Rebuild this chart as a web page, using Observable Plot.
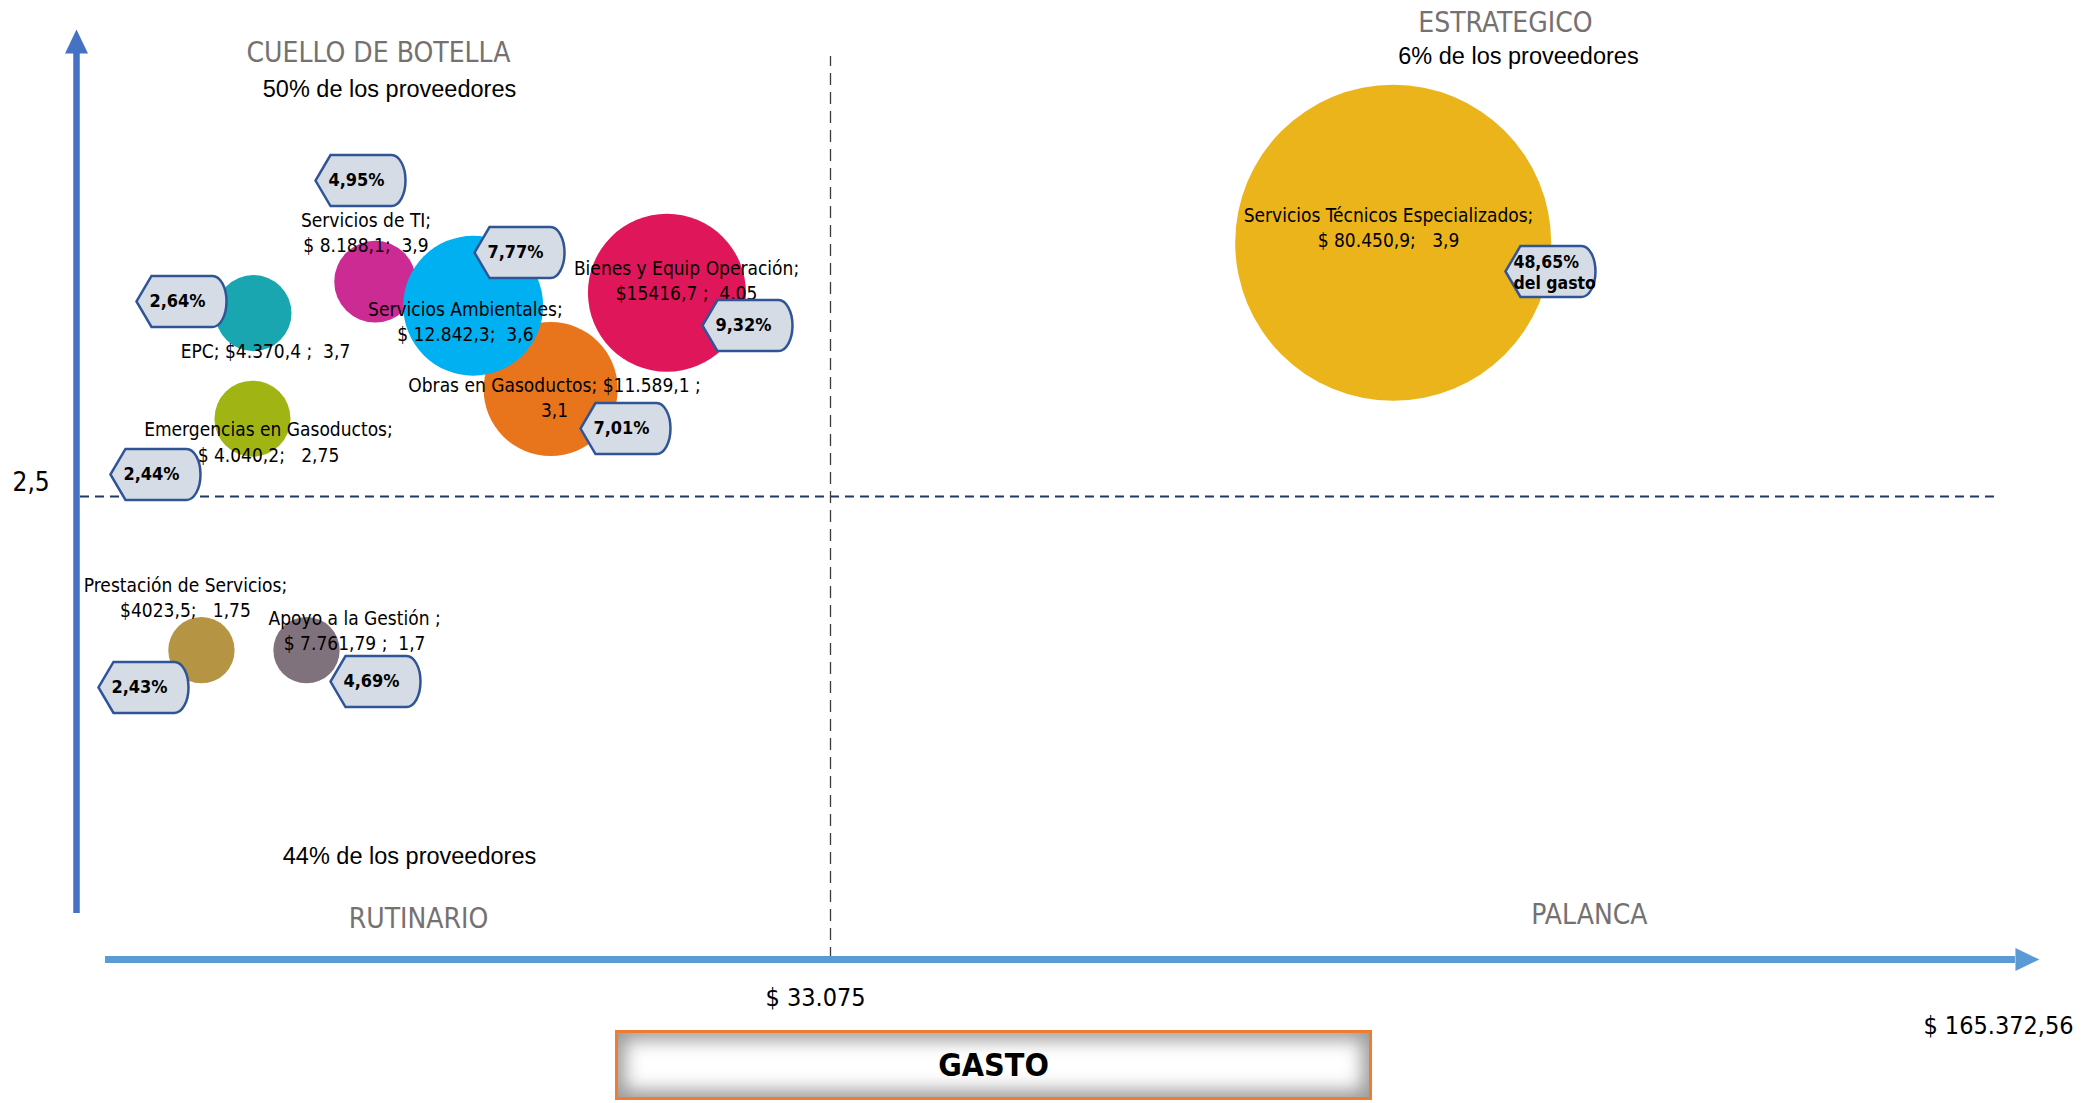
<!DOCTYPE html>
<html>
<head>
<meta charset="utf-8">
<script src="https://cdn.jsdelivr.net/npm/d3@7"></script>
<script src="https://cdn.jsdelivr.net/npm/@observablehq/plot@0.6"></script>
<style>
  body { margin: 0; background: #fff; }
  #wrap { position: relative; width: 2088px; height: 1103px; overflow: hidden; background: #fff; }
  #wrap svg text, #wrap svg tspan { white-space: pre; }
  #gasto {
    position: absolute; left: 615px; top: 1030px; width: 757px; height: 70px;
    box-sizing: border-box; border: 3px solid #ED7D31; background: #fff;
    box-shadow: inset 0 0 18px 7px rgba(100,100,100,0.65);
    display: flex; align-items: center; justify-content: center;
    font-family: 'Liberation Sans Narrow', 'DejaVu Sans Condensed', sans-serif;
    font-weight: bold; font-size: 32px; color: #000;
  }
</style>
</head>
<body>
<div id="wrap"><div id="chart"></div><div id="gasto">GASTO</div></div>
<script>
// ---------- data ----------
const categories = [
  "Servicios Técnicos Especializados", "Bienes y Equip Operación", "Obras en Gasoductos",
  "Servicios de TI", "Servicios Ambientales", "EPC", "Emergencias en Gasoductos",
  "Prestación de Servicios", "Apoyo a la Gestión"
];
const spendMCOP = [80450.9, 15416.7, 11589.1, 8188.1, 12842.3, 4370.4, 4040.2, 4023.5, 7761.79];
const score = [3.9, 4.05, 3.1, 3.9, 3.6, 3.7, 2.75, 1.75, 1.7];
const labelTexts = [
  "Servicios Técnicos Especializados;\n$ 80.450,9;   3,9",
  "Bienes y Equip Operación;\n$15416,7 ;  4,05",
  "Obras en Gasoductos; $11.589,1 ;\n3,1",
  "Servicios de TI;\n$ 8.188,1;  3,9",
  "Servicios Ambientales;\n$ 12.842,3;  3,6",
  "EPC; $4.370,4 ;  3,7",
  "Emergencias en Gasoductos;\n$ 4.040,2;   2,75",
  "Prestación de Servicios;\n$4023,5;   1,75",
  "Apoyo a la Gestión ;\n$ 7.761,79 ;  1,7"
];
const spendShareText = ["48,65%\ndel gasto", "9,32%", "7,01%", "4,95%", "7,77%", "2,64%", "2,44%", "2,43%", "4,69%"];
// bubble placement as drawn on the slide (axis units: gasto / puntaje)
const bubbleX = [96700, 25900, 20800, 13100, 17400, 7760, 7720, 5480, 10090];
const bubbleY = [3.87, 3.6, 3.08, 3.66, 3.53, 3.49, 2.92, 1.67, 1.67];
const bubbleSize = [100, 25, 18, 6.7, 19.6, 5.8, 5.8, 4.4, 4.4];
const labelX = [96170, 26760, 20970, 12700, 17060, 8290, 8420, 4780, 12200];
const labelY = [3.96, 3.67, 3.04, 3.93, 3.45, 3.29, 2.80, 1.96, 1.78];
const tagX = [114485, 29434, 24082, 12458, 19433, 4606, 3465, 2939, 13116];
const tagY = [3.715, 3.423, 2.867, 4.206, 3.817, 3.553, 2.619, 1.469, 1.501];

const quadrantNames = ["CUELLO DE BOTELLA", "ESTRATEGICO", "RUTINARIO", "PALANCA"];
const quadrantX = [13248, 109397, 15002, 118895];
const quadrantY = [4.892, 5.054, 0.216, 0.238];
const supplierShares = ["50% de los proveedores", "6% de los proveedores", "44% de los proveedores"];
const shareX = [13730, 110867, 14607];
const shareY = [4.698, 4.876, 0.556];

const spendThreshold = 33075;
const spendMax = 165372.56;
const scoreThreshold = 2.5;
const scoreMax = 5;
const tickLabels = ["$ 33.075", "$ 165.372,56", "2,5"];

const palette = ["#EBB41B", "#E0165A", "#E8751B", "#CC2B94", "#00B0F0", "#19A6B0", "#A0B514", "#B59444", "#80727D"];

// ---------- tables ----------
const bubbles = categories.map((c, i) => ({
  cat: c, spend: spendMCOP[i], score: score[i], x: bubbleX[i], y: bubbleY[i], size: bubbleSize[i],
  label: labelTexts[i], lx: labelX[i], ly: labelY[i], tag: spendShareText[i], tx: tagX[i], ty: tagY[i]
}));
const quadrants = quadrantNames.map((t, i) => ({t, x: quadrantX[i], y: quadrantY[i]}));
const shares = supplierShares.map((t, i) => ({t, x: shareX[i], y: shareY[i]}));

// ---------- shapes ----------
const NARROW = "'Liberation Sans Narrow', 'DejaVu Sans Condensed', sans-serif";
const displayShape = {
  draw(ctx) {
    const w = 90, h = 51, hw = w / 2, hh = h / 2, pl = 15, ar = 14, k = 0.5523;
    const xr = hw - ar;
    ctx.moveTo(-hw, 0);
    ctx.lineTo(-hw + pl, -hh);
    ctx.lineTo(xr, -hh);
    ctx.bezierCurveTo(xr + ar * k, -hh, hw, -hh * k, hw, 0);
    ctx.bezierCurveTo(hw, hh * k, xr + ar * k, hh, xr, hh);
    ctx.lineTo(-hw + pl, hh);
    ctx.closePath();
  }
};
const arrowHead = {
  draw(ctx) {
    ctx.moveTo(0, -24);
    ctx.lineTo(11.5, 0);
    ctx.lineTo(-11.5, 0);
    ctx.closePath();
  }
};

const yAxisLine = [{x: 0, y1: 0.248, y2: 4.892}];
const yAxisHead = [{x: 0, y: 4.892}];
const xAxisLine = [{y: 0, x1: 1272, x2: 167063}];
const xAxisHead = [{x: 167063, y: 0}];

const chart = Plot.plot({
  width: 2088,
  height: 1103,
  margin: 0,
  style: {fontFamily: NARROW, background: "transparent", overflow: "visible"},
  x: {type: "linear", domain: [0, spendThreshold, spendMax], range: [76, 830, 2000], axis: null},
  y: {type: "linear", domain: [0, scoreMax], range: [959, 33], axis: null},
  r: {type: "sqrt", domain: [0, 100], range: [0, 158]},
  color: {domain: categories, range: palette},
  marks: [
    // threshold lines
    Plot.ruleY([{y: scoreThreshold, x1: 175, x2: 165028}], {y: "y", x1: "x1", x2: "x2", stroke: "#203864", strokeWidth: 2, strokeDasharray: "9,6"}),
    Plot.ruleX([{x: spendThreshold, y1: 0, y2: 4.876}], {x: "x", y1: "y1", y2: "y2", stroke: "#3a3a3a", strokeWidth: 1.3, strokeDasharray: "12,7"}),
    // axis arrows
    Plot.ruleX(yAxisLine, {x: "x", y1: "y1", y2: "y2", stroke: "#4472C4", strokeWidth: 6.5}),
    Plot.dot(yAxisHead, {x: "x", y: "y", symbol: arrowHead, r: 5, fill: "#4472C4", stroke: "none"}),
    Plot.ruleY(xAxisLine, {y: "y", x1: "x1", x2: "x2", stroke: "#5B9BD5", strokeWidth: 7}),
    Plot.dot(xAxisHead, {x: "x", y: "y", symbol: arrowHead, r: 5, rotate: 90, fill: "#5B9BD5", stroke: "none"}),
    // tick labels
    Plot.text([{x: spendThreshold, y: 0, t: tickLabels[0]}], {x: "x", y: "y", text: "t", dx: -15, dy: 38, fontSize: 25, fill: "#000"}),
    Plot.text([{x: spendMax, y: 0, t: tickLabels[1]}], {x: "x", y: "y", text: "t", dx: -2, dy: 66, fontSize: 25, fill: "#000"}),
    Plot.text([{y: scoreThreshold, t: tickLabels[2]}], {y: "y", text: "t", frameAnchor: "left", dx: 12, dy: -14, fontSize: 26, fill: "#000"}),
    // quadrant names and supplier shares
    Plot.text(quadrants, {x: "x", y: "y", text: "t", fontSize: 28, fill: "#767171"}),
    Plot.text(shares, {x: "x", y: "y", text: "t", fontSize: 23.5, fill: "#000", fontFamily: "'Liberation Sans', Arial, sans-serif"}),
    // bubbles
    Plot.dot(bubbles, {x: "x", y: "y", r: "size", fill: "cat", stroke: "none", sort: null}),
    Plot.text(bubbles, {x: "lx", y: "ly", text: "label", fontSize: 19, lineHeight: 1.32, fill: "#000"}),
    // share-of-spend tags
    Plot.dot(bubbles, {x: "tx", y: "ty", symbol: displayShape, r: 5, fill: "#D6DCE5", stroke: "#2F5597", strokeWidth: 2.5, sort: null}),
    Plot.text(bubbles, {x: "tx", y: "ty", text: "tag", dx: -4, fontSize: 18, fontWeight: "bold", fill: "#000", filter: (d) => !d.tag.includes("\n")}),
    Plot.text(bubbles, {x: "tx", y: "ty", text: "tag", dx: -37, textAnchor: "start", fontSize: 17.5, fontWeight: "bold", lineHeight: 1.2, fill: "#000", filter: (d) => d.tag.includes("\n")})
  ]
});
document.getElementById("chart").appendChild(chart);
</script>
</body>
</html>
